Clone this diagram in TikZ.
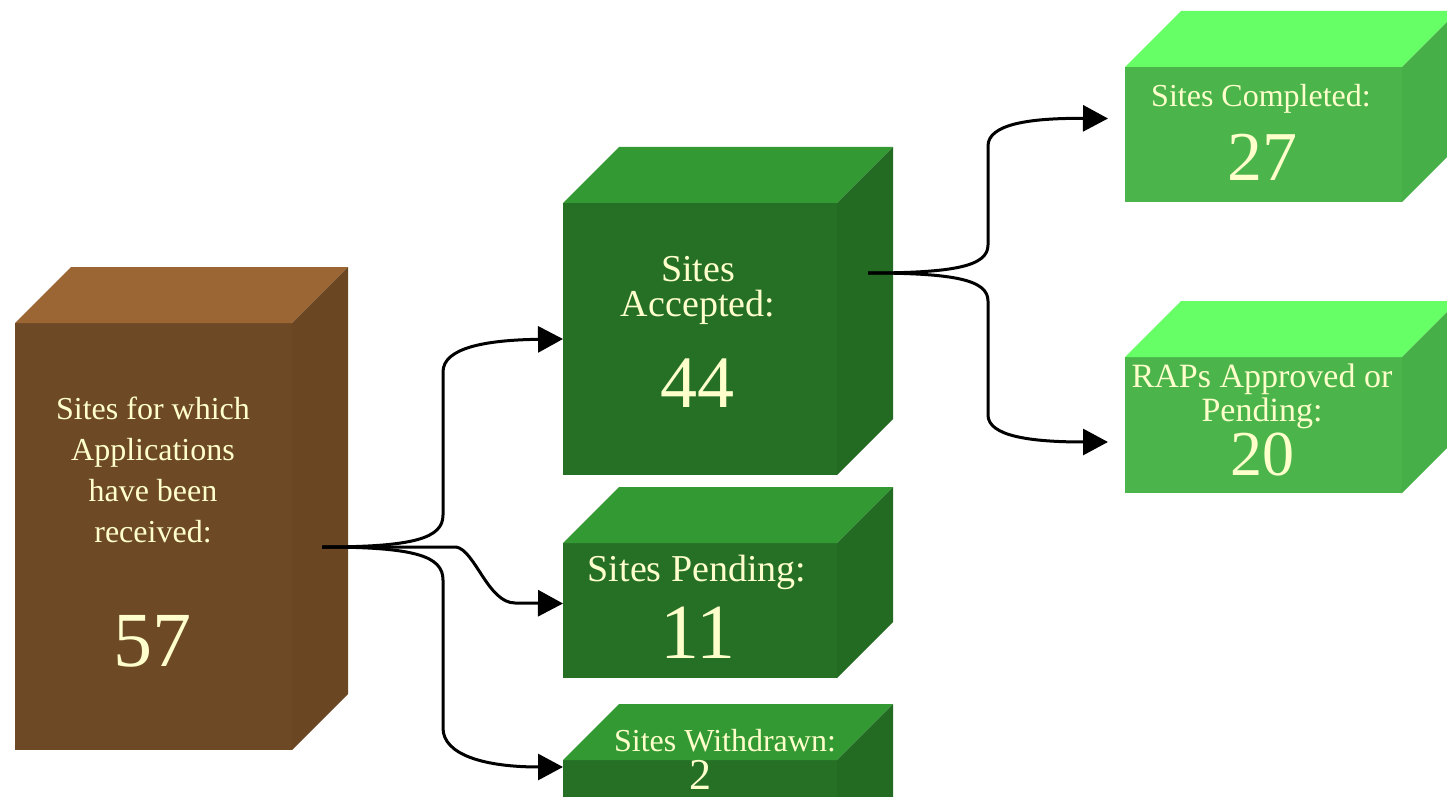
\documentclass[tikz,border=0pt]{standalone}
\usepackage{fontspec}
\setmainfont{Liberation Serif}
\usetikzlibrary{arrows.meta,calc}

\definecolor{brfront}{HTML}{6D4A25}
\definecolor{brtop}{HTML}{9B6633}
\definecolor{brside}{HTML}{6A4623}
\definecolor{dkfront}{HTML}{267026}
\definecolor{dktop}{HTML}{339933}
\definecolor{dkside}{HTML}{236B23}
\definecolor{ltfront}{HTML}{4BB54B}
\definecolor{lttop}{HTML}{66FF66}
\definecolor{ltside}{HTML}{47AF47}
\definecolor{cream}{HTML}{FFFFCC}

% top and side faces of a box whose front face is node #1
\newcommand{\boxfaces}[3]{%
  \fill[#2] (#1.north west) -- ++(56,-56) -- ([shift={(56,-56)}]#1.north east) -- (#1.north east) -- cycle;
  \fill[#3] (#1.north east) -- ++(56,-56) -- ([shift={(56,-56)}]#1.south east) -- (#1.south east) -- cycle;
}

\begin{document}
\begin{tikzpicture}[x=0.5pt,y=-0.5pt]
\tikzset{frontface/.style={inner sep=0pt,outer sep=0pt,anchor=north west,minimum width=137pt}}
\tikzset{txt/.style={text=cream,align=center,inner sep=0pt}}
\tikzset{link/.style={line width=1.5pt,-{Triangle[length=12.5pt,width=13pt]}}}
\useasboundingbox (0,0) rectangle (1447,797);
\clip (0,0) rectangle (1447,797);

% front faces
\node[frontface,fill=brfront,minimum width=138.5pt,minimum height=213.5pt] (rcv) at (15,323) {};
\node[frontface,fill=dkfront,minimum height=136pt] (acc) at (563,203) {};
\node[frontface,fill=dkfront,minimum height=67.5pt] (pnd) at (563,543) {};
\node[frontface,fill=dkfront,minimum height=67.5pt] (wdn) at (563,760) {};
\node[frontface,fill=ltfront,minimum width=138.5pt,minimum height=67.5pt] (cmp) at (1125,67) {};
\node[frontface,fill=ltfront,minimum width=138.5pt,minimum height=68pt] (rap) at (1125,357) {};

\boxfaces{rcv}{brtop}{brside}
\boxfaces{acc}{dktop}{dkside}
\boxfaces{pnd}{dktop}{dkside}
\boxfaces{wdn}{dktop}{dkside}
\boxfaces{cmp}{lttop}{ltside}
\boxfaces{rap}{lttop}{ltside}

% texts
\node[txt,font=\fontsize{16}{20.5}\selectfont] (rcv-t) at (153,470) {Sites for which\\Applications\\have been\\received:};
\node[txt,font=\fontsize{39}{39}\selectfont] (rcv-n) at (152,641) {57};
\node[txt,font=\fontsize{19}{17.5}\selectfont] (acc-t) at (698,290) {Sites\\Accepted:};
\node[txt,font=\fontsize{37}{37}\selectfont] (acc-n) at (697,383) {44};
\node[txt,font=\fontsize{19}{19}\selectfont] (pnd-t) at (697,572) {Sites Pending:};
\node[txt,font=\fontsize{39}{39}\selectfont] (pnd-n) at (698,633) {11};
\node[txt,font=\fontsize{16}{16}\selectfont] (wdn-t) at (725,741) {Sites Withdrawn:};
\node[txt,font=\fontsize{22}{22}\selectfont] (wdn-n) at (700,775) {2};
\node[txt,font=\fontsize{16}{16}\selectfont] (cmp-t) at (1261,99) {Sites Completed:};
\node[txt,font=\fontsize{35}{35}\selectfont] (cmp-n) at (1262,157) {27};
\node[txt,font=\fontsize{17}{17}\selectfont] (rap-t) at (1262,396) {RAPs Approved or\\Pending:};
\node[txt,font=\fontsize{32}{32}\selectfont] (rap-n) at (1262,455) {20};

% connectors
\coordinate (rcv-out) at (322,547);
\coordinate (acc-out) at (868,273);
\draw[link] (rcv-out) .. controls (415,547) and (443,538) .. (443,515) -- (443,372) .. controls (443,348) and (485,340) .. (acc.west);
\draw[link] (rcv-out) -- (456,547) .. controls (475,550) and (488,603) .. (515,603) -- ([yshift=3.5pt]pnd.west);
\draw[link] (rcv-out) .. controls (415,547) and (443,556) .. (443,580) -- (443,728) .. controls (443,755) and (485,767) .. ([yshift=-3.5pt]wdn.north west);
\draw[link] (acc-out) .. controls (955,273) and (988,266) .. (988,245) -- (988,146) .. controls (988,124) and (1030,118) .. ([shift={(-17,-16)}]cmp.west);
\draw[link] (acc-out) .. controls (955,273) and (988,280) .. (988,301) -- (988,415) .. controls (988,436) and (1030,442) .. ([shift={(-17,17)}]rap.west);
\end{tikzpicture}
\end{document}
